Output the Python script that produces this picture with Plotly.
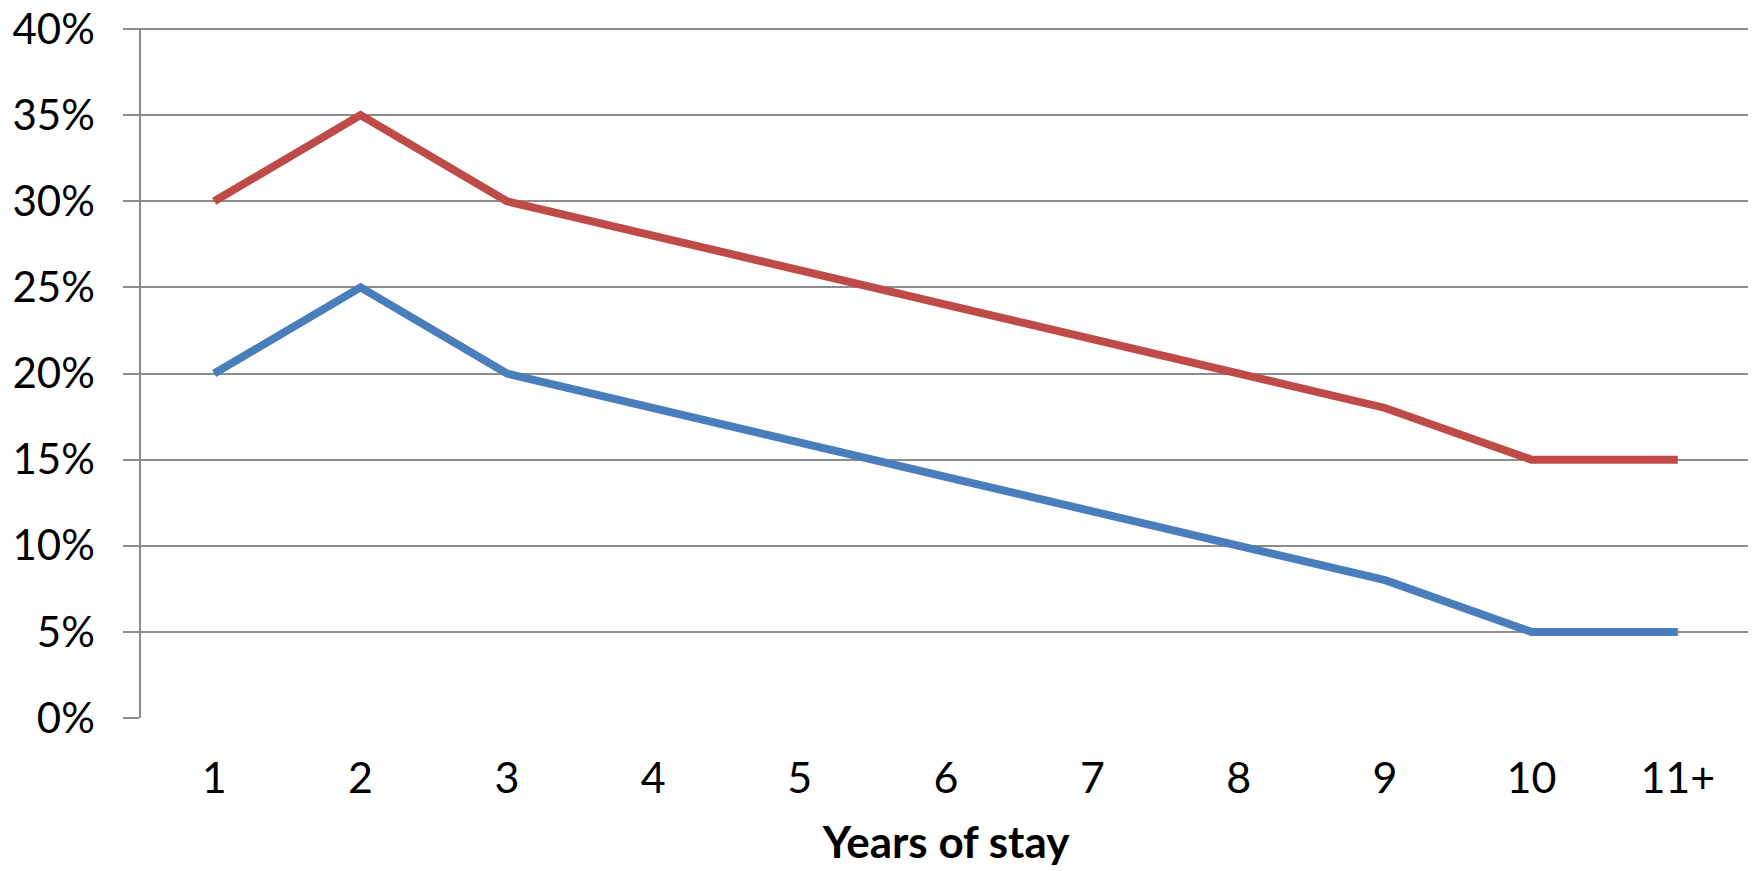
import plotly.graph_objects as go

years = ["1", "2", "3", "4", "5", "6", "7", "8", "9", "10", "11+"]
red_series = [0.30, 0.35, 0.30, 0.28, 0.26, 0.24, 0.22, 0.20, 0.18, 0.15, 0.15]
blue_series = [0.20, 0.25, 0.20, 0.18, 0.16, 0.14, 0.12, 0.10, 0.08, 0.05, 0.05]
y_ticks = [0, 0.05, 0.10, 0.15, 0.20, 0.25, 0.30, 0.35, 0.40]
y_ticklabels = ["0%", "5%", "10%", "15%", "20%", "25%", "30%", "35%", "40%"]

grid = "#8c8c8c"
font_family = "Lato, 'Open Sans', sans-serif"

fig = go.Figure()
fig.add_trace(go.Scatter(x=years, y=blue_series, mode="lines",
                         line=dict(color="#4A7EBB", width=8), showlegend=False))
fig.add_trace(go.Scatter(x=years, y=red_series, mode="lines",
                         line=dict(color="#BE4B48", width=8), showlegend=False))

fig.update_layout(
    width=1756, height=871,
    margin=dict(l=133, r=13, t=20, b=161),
    paper_bgcolor="white", plot_bgcolor="white",
    font=dict(family=font_family, color="black", size=43),
    xaxis=dict(
        type="category", range=[-0.5, 10.5], automargin=False,
        showgrid=False, showline=False, ticks="",
        tickfont=dict(size=43), ticklabelstandoff=31,
        title=dict(text="<b>Years of stay</b>", font=dict(size=44), standoff=26),
        zeroline=False,
    ),
    yaxis=dict(
        range=[0, 0.4006], tickvals=y_ticks, ticktext=y_ticklabels, automargin=False,
        ticklabeloverflow="allow",
        showgrid=True, gridcolor=grid, gridwidth=1.5,
        showline=True, linecolor=grid, linewidth=1.5,
        ticks="outside", ticklen=16, tickcolor=grid, tickwidth=1.5,
        tickfont=dict(size=42), ticklabelstandoff=20,
        zeroline=False,
    ),
)

fig.write_html("out.html")
